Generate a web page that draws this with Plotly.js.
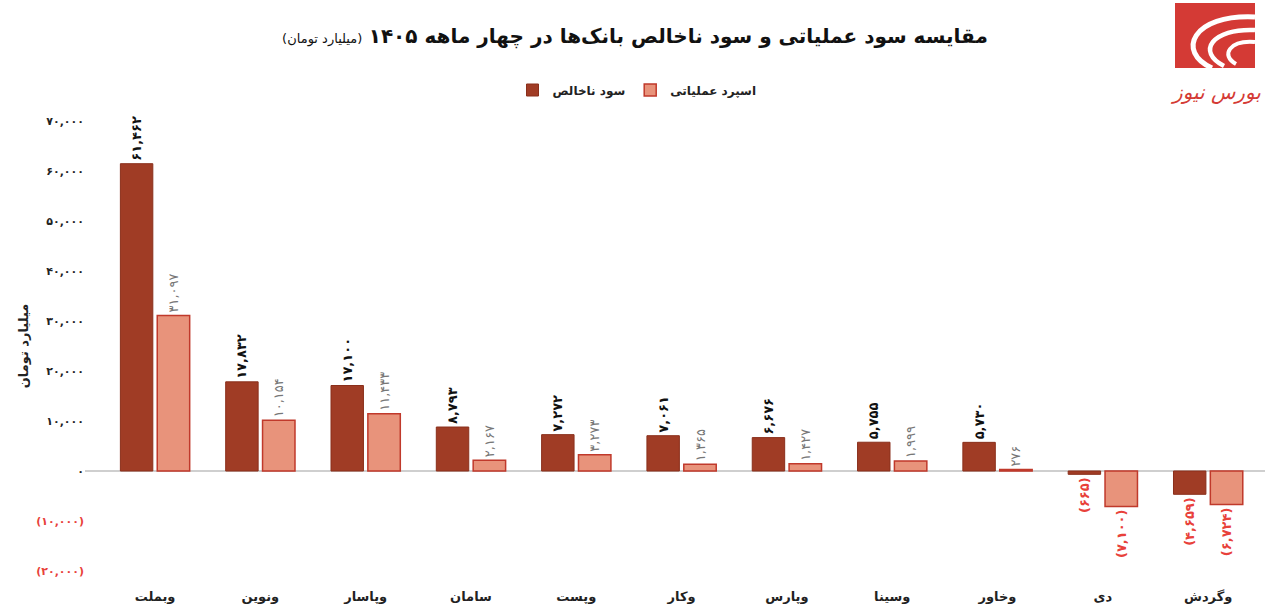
<!DOCTYPE html>
<html><head><meta charset="utf-8">
<script src="https://cdn.plot.ly/plotly-3.0.1.min.js"></script>
<style>body{margin:0;background:#fff}#chart{width:1271px;height:616px}</style>
</head><body><div id="chart"></div>
<script>
// ---- data ----
const banks = ['وبملت','ونوین','وپاسار','سامان','وپست','وکار','وپارس','وسینا','وخاور','دی','وگردش'];
const grossProfit = [61462,17832,17100,8793,7272,7061,6676,5755,5730,-665,-4659];
const operatingSpread = [31097,10154,11433,2167,3273,1365,1427,1999,276,-7100,-6724];
const seriesNames = ['سود ناخالص','اسپرد عملیاتی'];
const yTickVals = [-20000,-10000,0,10000,20000,30000,40000,50000,60000,70000];
const titleMain = 'مقایسه سود عملیاتی و سود ناخالص بانک‌ها در چهار ماهه ۱۴۰۵';
const titleUnit = '(میلیارد تومان)';
const yTitle = 'میلیارد تومان';
const logoText = 'بورس نیوز';

// ---- helpers ----
const RED = '#e8413a';
function fa(n){ return Math.abs(n).toLocaleString('en-US').replace(/\d/g, d => '۰۱۲۳۴۵۶۷۸۹'[d]); }
function lab(n){ return n < 0 ? '(' + fa(n) + ')' : fa(n); }
const yTickText = yTickVals.map(v => v < 0 ? '<span style="color:' + RED + '">' + lab(v) + '</span>' : lab(v));

const L = 85, W = 1180, T = 111, H = 470;
const px = x => (x - L) / W;
const py = y => (T + H - y) / H;

const FONT = 'DejaVu Sans, Noto Sans, sans-serif';

const traceDark = {
  type: 'bar', name: seriesNames[0], x: banks, y: grossProfit,
  marker: {color: '#a03c25', line: {color: '#8a2f1b', width: 1}},
  text: grossProfit.map(v => '<b>' + lab(v) + '</b>'),
  textposition: 'outside', textangle: -90, constraintext: 'none', cliponaxis: false,
  textfont: {family: FONT, size: 13, color: grossProfit.map(v => v < 0 ? RED : '#111')},
  hoverinfo: 'x+y'
};
const traceLight = {
  type: 'bar', name: seriesNames[1], x: banks, y: operatingSpread,
  marker: {color: '#e8937b', line: {color: '#c0392b', width: 1.5}},
  text: operatingSpread.map(v => v < 0 ? '<b>' + lab(v) + '</b>' : lab(v)),
  textposition: 'outside', textangle: -90, constraintext: 'none', cliponaxis: false,
  textfont: {family: FONT, size: 13, color: operatingSpread.map(v => v < 0 ? RED : '#777')},
  hoverinfo: 'x+y'
};

// logo arcs (white) in pixel coords converted to paper
function arcPath(p){
  return 'M ' + px(p[0]) + ' ' + py(p[1]) + ' C ' + px(p[2]) + ' ' + py(p[3]) + ' ' +
         px(p[4]) + ' ' + py(p[5]) + ' ' + px(p[6]) + ' ' + py(p[7]);
}

const layout = {
  width: 1271, height: 616,
  paper_bgcolor: '#fff', plot_bgcolor: '#fff',
  margin: {l: L, r: 1271 - L - W, t: T, b: 616 - T - H},
  font: {family: FONT, color: '#222'},
  title: {
    text: '<span style="font-size:13px;font-weight:normal">' + titleUnit + '</span> <b>' + titleMain + '</b>',
    font: {family: FONT, size: 20, color: '#111'},
    x: 635 / 1271, xanchor: 'center', y: 1 - 36 / 616, yanchor: 'middle'
  },
  barmode: 'group', bargap: 0.3, bargroupgap: 0.12,
  showlegend: true,
  legend: {orientation: 'h', x: px(637), xanchor: 'center', y: py(90), yanchor: 'middle',
           font: {family: FONT, size: 12, color: '#222', weight: 'bold'}, traceorder: 'normal'},
  xaxis: {
    range: [-0.665, 10.54], showgrid: false, showline: false, zeroline: false, ticks: '',
    tickfont: {family: FONT, size: 13, color: '#222', weight: 'bold'}, ticklabelstandoff: 6,
    fixedrange: true
  },
  yaxis: {
    range: [-22000, 72000], showgrid: false, showline: false, ticks: '',
    zeroline: true, zerolinecolor: '#cfcfcf', zerolinewidth: 1.5,
    tickvals: yTickVals, ticktext: yTickText,
    tickfont: {family: FONT, size: 11, color: '#222', weight: 'bold'},
    title: {text: '<b>' + yTitle + '</b>', font: {family: FONT, size: 13, color: '#222'}, standoff: 4},
    fixedrange: true
  },
  shapes: [
    {type: 'rect', xref: 'paper', yref: 'paper', x0: px(1175), x1: px(1255), y0: py(68), y1: py(3),
     fillcolor: '#d43a35', line: {width: 0}},
    {type: 'path', xref: 'paper', yref: 'paper', path: arcPath([1255, 17, 1192, 14, 1176, 52, 1212, 68]), line: {color: '#fff', width: 5}},
    {type: 'path', xref: 'paper', yref: 'paper', path: arcPath([1255, 30, 1212, 28, 1196, 52, 1224, 66]), line: {color: '#fff', width: 4.5}},
    {type: 'path', xref: 'paper', yref: 'paper', path: arcPath([1255, 42, 1230, 40, 1220, 55, 1236, 64]), line: {color: '#fff', width: 4}}
  ],
  annotations: [
    {xref: 'paper', yref: 'paper', x: px(1215), y: py(92), text: '<i>' + logoText + '</i>', showarrow: false,
     font: {family: FONT, size: 20, color: '#d43a35'}, xanchor: 'center', yanchor: 'middle'}
  ]
};

Plotly.newPlot('chart', [traceDark, traceLight], layout, {displayModeBar: false, staticPlot: true});
</script></body></html>
